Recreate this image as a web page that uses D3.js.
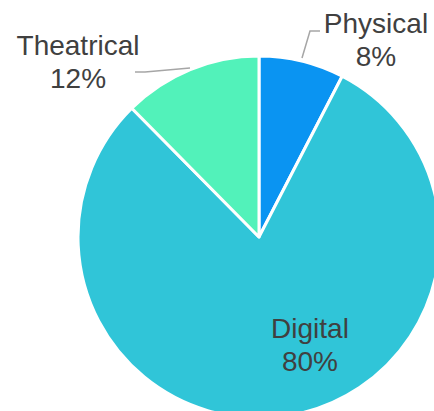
<!DOCTYPE html>
<html>
<head>
<meta charset="utf-8">
<script src="https://d3js.org/d3.v7.min.js"></script>
<style>
  html, body { margin: 0; padding: 0; background: #fff; }
  .lbl { font: 28px "Liberation Sans", Arial, sans-serif; fill: #404040; }
  .leader { fill: none; stroke: #a6a6a6; stroke-width: 1.5px; }
</style>
</head>
<body>
<script>
// data
var categories = ["Physical", "Digital", "Theatrical"];
var shares = [7.6, 80.0, 12.4];
var colors = ["#0a94f2", "#30c5d8", "#52f2ba"];

var width = 434, height = 411;
var cx = 259, cy = 237, radius = 181;

var svg = d3.select("body").append("svg")
    .attr("width", width)
    .attr("height", height);

var g = svg.append("g").attr("transform", "translate(" + cx + "," + cy + ")");

var pie = d3.pie().sort(null).value(function(d) { return d; });
var arc = d3.arc().innerRadius(0).outerRadius(radius);
var arcs = pie(shares);
var pct = d3.format(".0f");

g.selectAll("path.slice")
  .data(arcs)
  .enter().append("path")
  .attr("class", "slice")
  .attr("d", arc)
  .attr("fill", function(d, i) { return colors[i]; })
  .attr("stroke", "#fff")
  .attr("stroke-width", 3)
  .attr("stroke-linejoin", "round");

// label placement (relative to centre)
var labelPos = [
  { x: 117, y: -204, leader: [[43, -179], [51, -206], [61, -206]] },
  { x: 51, y: 101, leader: null },
  { x: -181, y: -182, leader: [[-69, -169], [-114, -165], [-124, -165]] }
];

labelPos.forEach(function(p, i) {
  if (p.leader) {
    g.append("path")
      .attr("class", "leader")
      .attr("d", d3.line()(p.leader));
  }
  var t = g.append("text")
    .attr("class", "lbl")
    .attr("text-anchor", "middle");
  t.append("tspan").attr("x", p.x).attr("y", p.y).text(categories[i]);
  t.append("tspan").attr("x", p.x).attr("y", p.y + 33).text(pct(shares[i]) + "%");
});
</script>
</body>
</html>
